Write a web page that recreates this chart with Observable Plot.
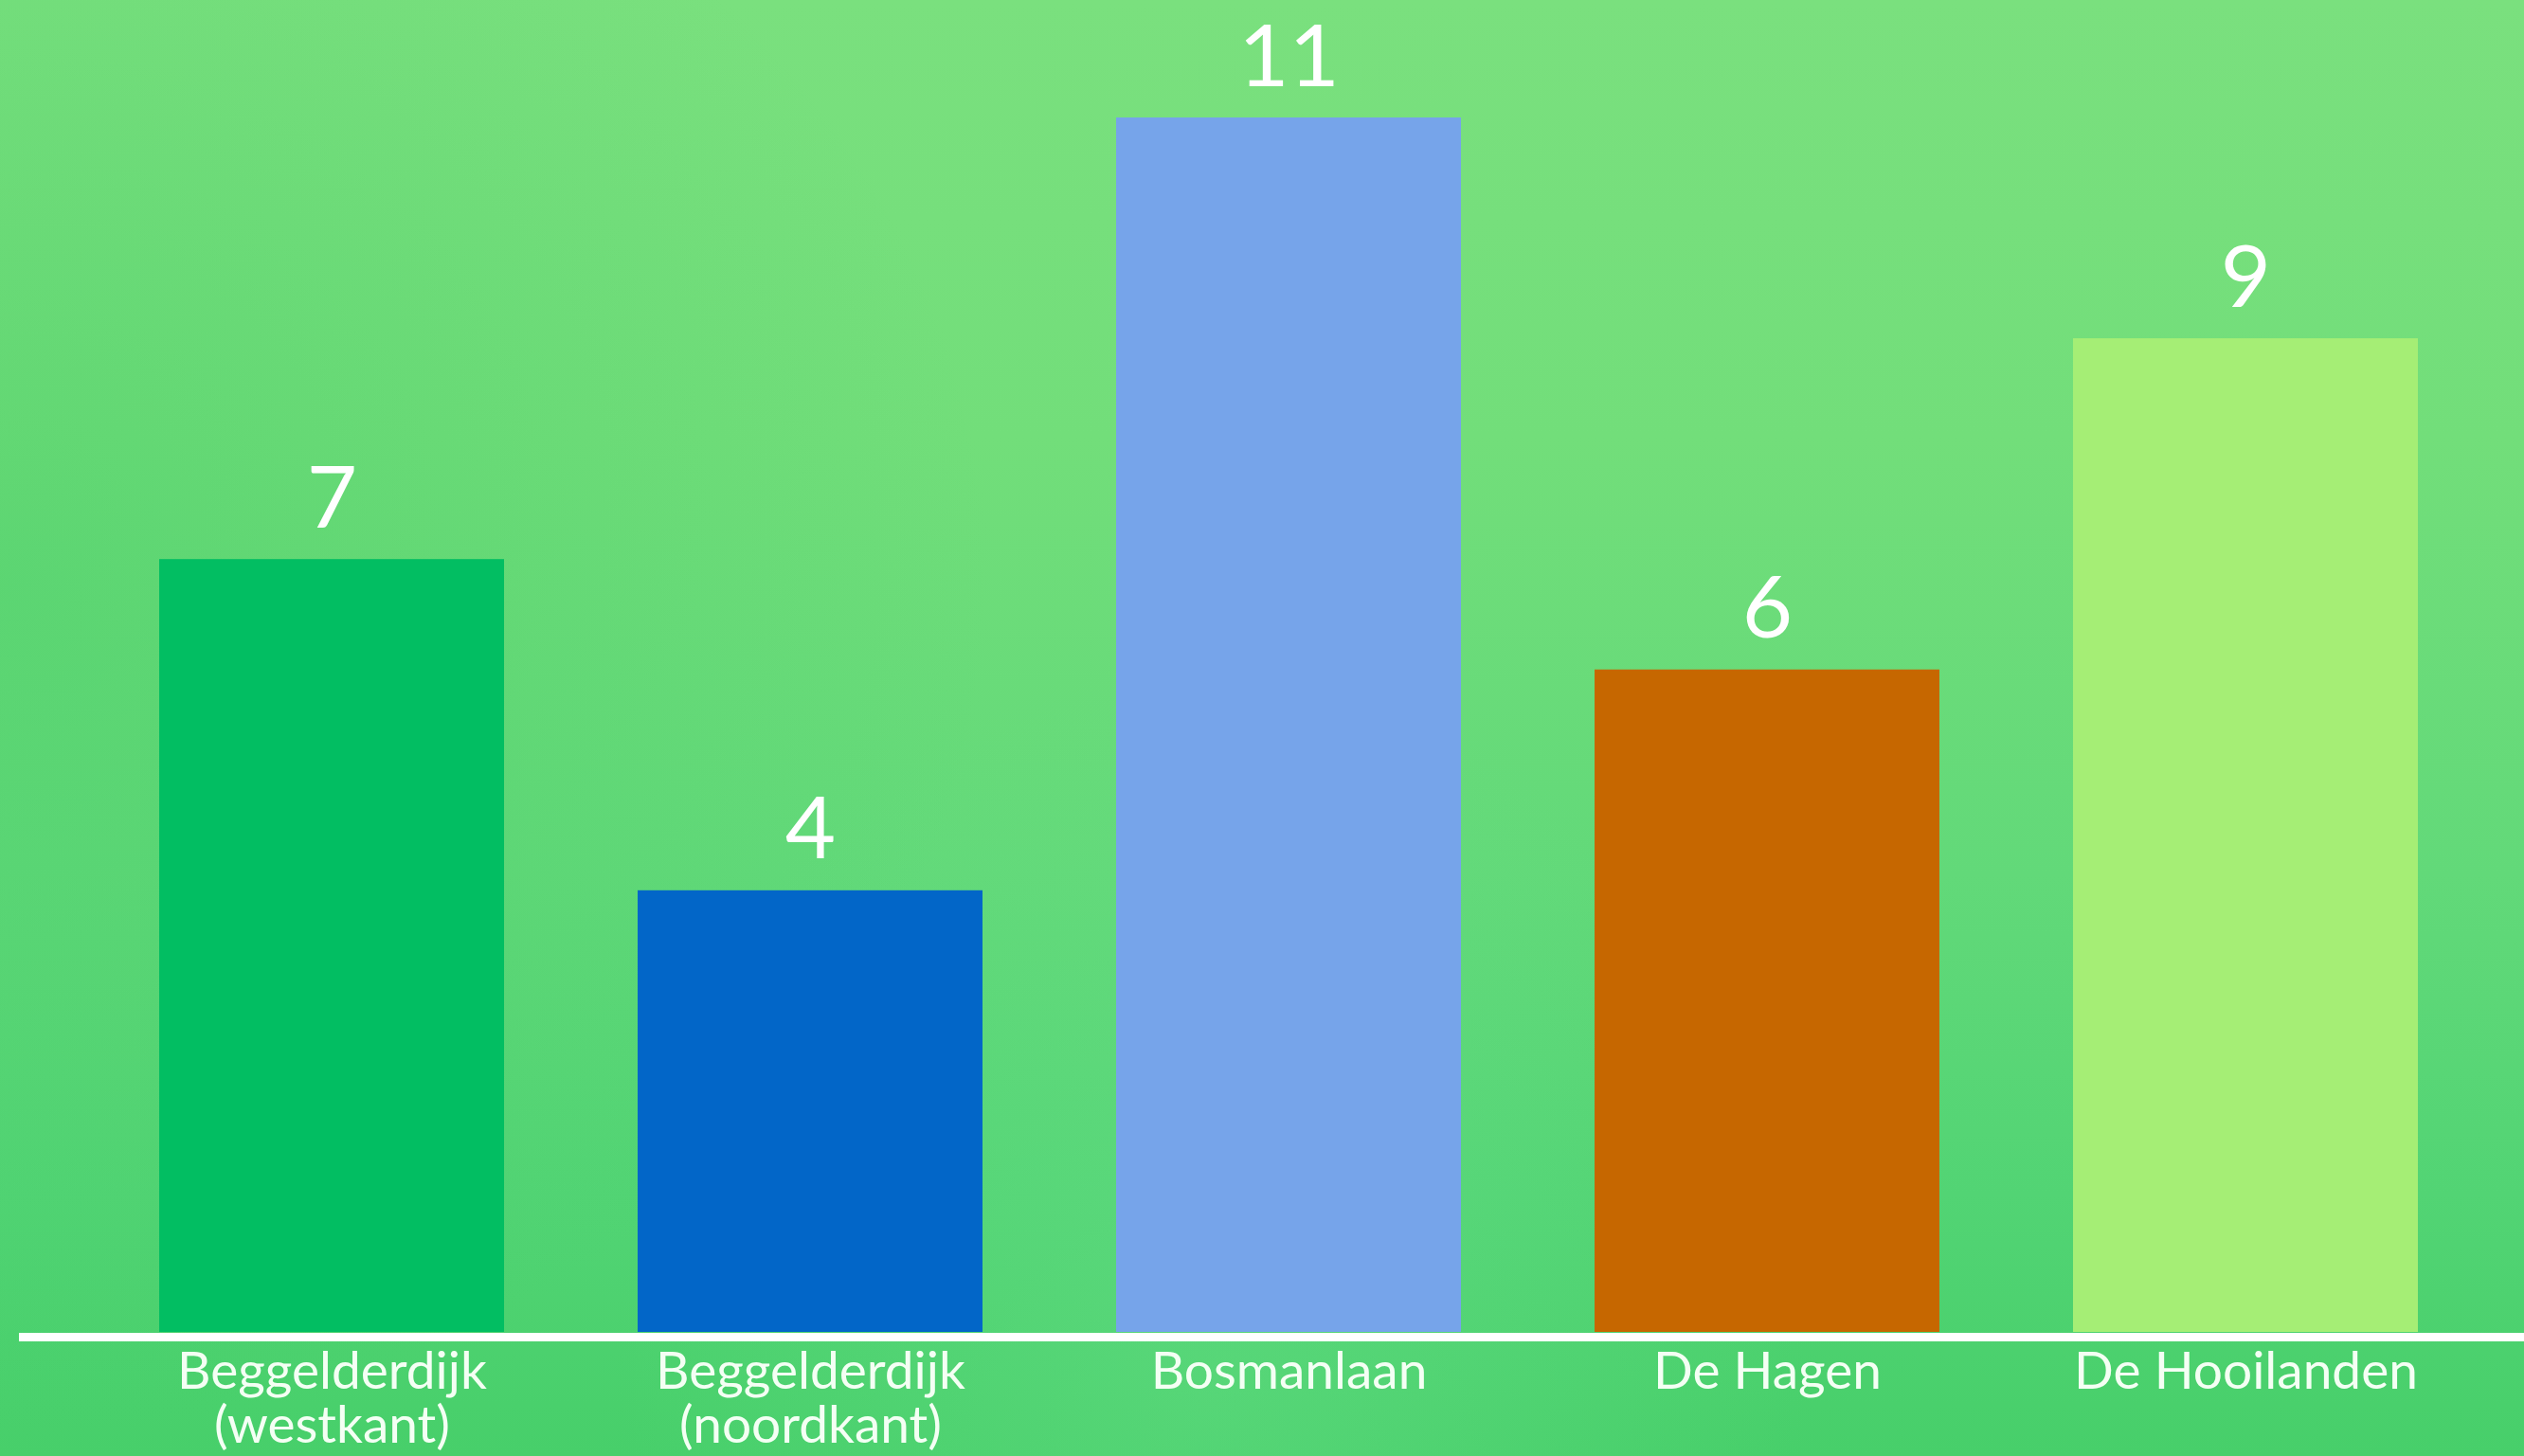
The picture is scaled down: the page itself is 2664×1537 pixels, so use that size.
<!DOCTYPE html>
<html>
<head>
<meta charset="utf-8">
<script src="https://cdn.jsdelivr.net/npm/d3@7"></script>
<script src="https://cdn.jsdelivr.net/npm/@observablehq/plot@0.6"></script>
<style>
  html, body { margin: 0; padding: 0; }
  body {
    width: 2664px; height: 1537px; overflow: hidden;
    background:
      radial-gradient(ellipse 900px 1100px at 48% 95%, rgba(110,225,140,0.35), rgba(110,225,140,0) 70%),
      radial-gradient(ellipse 1500px 1300px at 0% 40%, rgba(60,200,100,0.35), rgba(60,200,100,0) 70%),
      linear-gradient(180deg, #7ae07e 0%, #72de7a 30%, #62d979 60%, #52d474 82%, #47cf6a 100%);
  }
  #chart svg { display: block; }
</style>
</head>
<body>
<div id="chart"></div>
<script>
const categories = ["Beggelderdijk\n(westkant)", "Beggelderdijk\n(noordkant)", "Bosmanlaan", "De Hagen", "De Hooilanden"];
const values = [7, 4, 11, 6, 9];
const barColors = ["#02be62", "#0266c8", "#76a4ea", "#c66700", "#a5ee75"];

const data = categories.map((name, i) => ({name, value: values[i]}));

const chart = Plot.plot({
  width: 2664,
  height: 1537,
  marginLeft: 20,
  marginRight: 0,
  marginTop: 124,
  marginBottom: 131,
  style: {background: "transparent", color: "white", fontFamily: "Lato, 'Open Sans', sans-serif", fontSize: "55px"},
  x: {domain: categories, paddingInner: 0.2787, paddingOuter: 0.252, align: 0.569, label: null},
  y: {domain: [0, 11], axis: null},
  color: {domain: categories, range: barColors},
  marks: [
    Plot.barY(data, {x: "name", y: "value", fill: "name"}),
    Plot.ruleY([0], {stroke: "white", strokeWidth: 9, dy: 5}),
    Plot.text(data, {x: "name", y: "value", text: d => String(d.value), lineAnchor: "bottom", dy: -34, fontSize: 92, fill: "white"}),
    Plot.axisX({tickSize: 0, tickPadding: 18, fontSize: 55, lineHeight: 1.05, label: null, fill: "#f4fff4"})
  ]
});
document.getElementById("chart").appendChild(chart);
</script>
</body>
</html>
